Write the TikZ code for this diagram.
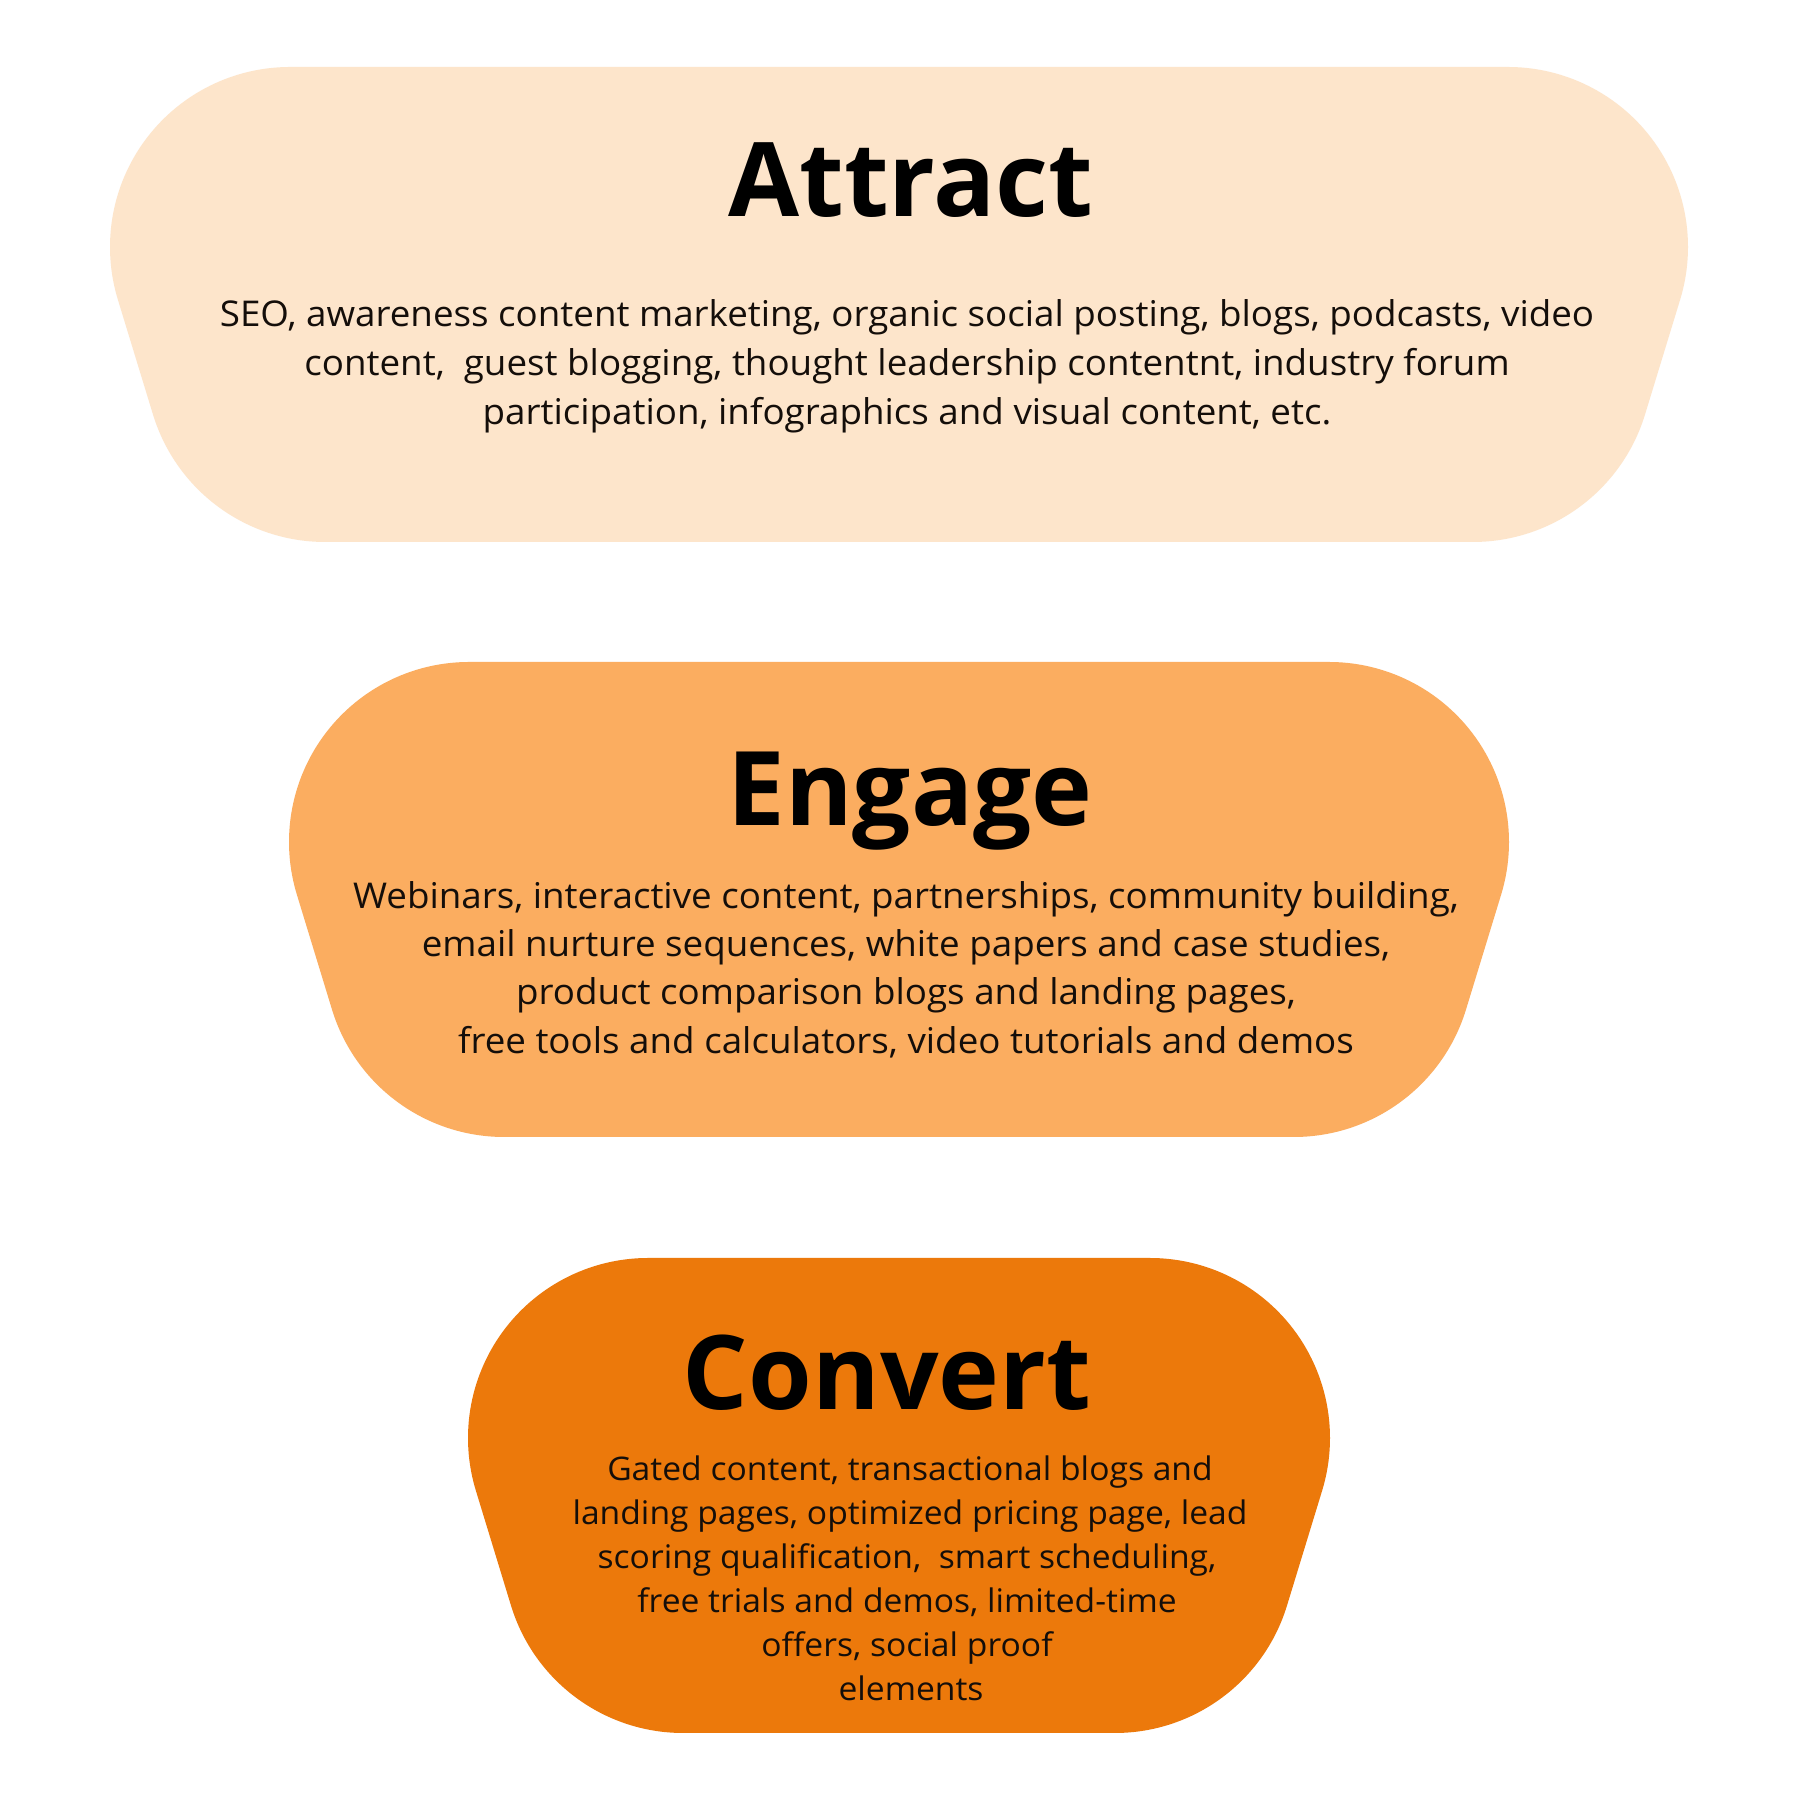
\documentclass[tikz,border=0pt]{standalone}
\usepackage{fontspec}
\setmainfont{Open Sans}
\newfontfamily\bodyfont{Open Sans}[FakeStretch=1.035]
\definecolor{attractc}{RGB}{253,229,203}
\definecolor{engagec}{RGB}{251,173,96}
\definecolor{convertc}{RGB}{236,121,11}
\definecolor{bodyc}{RGB}{20,14,10}
\newcommand{\funnelband}[4]{%
  \pgfmathsetmacro{\fbstart}{#1+180}%
  \pgfmathsetmacro{\fbbot}{#3-430.32}%
  \fill[#4] (\fbstart,#2) arc[start angle=90,end angle=197,radius=180pt]
    -- ++(35.16,-115) arc[start angle=197,end angle=270,radius=180pt]
    -- ++(\fbbot,0) arc[start angle=270,end angle=343,radius=180pt]
    -- ++(35.16,115) arc[start angle=343,end angle=450,radius=180pt] -- cycle;
}
\tikzset{
  head/.style={anchor=base, inner sep=0pt, text=black, font=\fontsize{103}{110}\selectfont\bfseries},
  body/.style={anchor=base, inner sep=0pt, text=bodyc, font=\bodyfont\fontsize{35.5}{40}\selectfont},
  bodysm/.style={anchor=base, inner sep=0pt, text=bodyc, font=\bodyfont\fontsize{32.5}{36}\selectfont}
}
\begin{document}
\begin{tikzpicture}[x=1pt,y=1pt]
\useasboundingbox (0,0) rectangle (1800,1800);
\fill[white] (0,0) rectangle (1800,1800);
% bands
\funnelband{110}{1733}{1578}{attractc}
\funnelband{289}{1138}{1220}{engagec}
\funnelband{468}{542}{862}{convertc}
% Attract
\node[head] (ah) at (911,1583) {Attract};
\node[body] (a1) at (907,1473) {SEO, awareness content marketing, organic social posting, blogs, podcasts, video};
\node[body] (a2) at (907,1424) {content,\ \ guest blogging, thought leadership contentnt, industry forum};
\node[body] (a3) at (907,1375) {participation, infographics and visual content, etc.};
% Engage
\node[head] (eh) at (910,974) {Engage};
\node[body] (e1) at (906,891) {Webinars, interactive content, partnerships, community building,};
\node[body] (e2) at (906,843) {email nurture sequences, white papers and case studies,};
\node[body] (e3) at (906,795) {product comparison blogs and landing pages,};
\node[body] (e4) at (906,746) {free tools and calculators, video tutorials and demos};
% Convert
\node[head] (ch) at (887,390) {Convert};
\node[bodysm] (c1) at (910,319) {Gated content, transactional blogs and};
\node[bodysm] (c2) at (910,275) {landing pages, optimized pricing page, lead};
\node[bodysm] (c3) at (907,231) {scoring qualification,\ \ smart scheduling,};
\node[bodysm] (c4) at (907,187) {free trials and demos, limited-time};
\node[bodysm] (c5) at (907,143) {offers, social proof};
\node[bodysm] (c6) at (911,99) {elements};
\end{tikzpicture}
\end{document}
